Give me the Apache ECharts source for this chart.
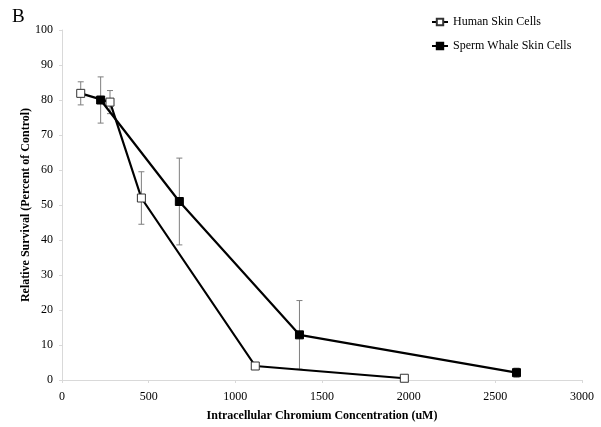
<!DOCTYPE html>
<html><head><meta charset="utf-8">
<script src="https://cdn.jsdelivr.net/npm/echarts@6/dist/echarts.min.js"></script>
<style>html,body{margin:0;padding:0;background:#fff}#c{width:601px;height:427px}</style>
</head><body><div id="c"></div>
<script>
const humanX = [108, 277, 458, 1115, 1975];
const humanY = [81.9, 79.4, 52.0, 4.0, 0.5];
const humanErr = [3.3, 3.3, 7.5, 0.5, 0.4];
const whaleX = [223, 677, 1370, 2622];
const whaleY = [80.0, 51.0, 12.9, 2.1];
const whaleErr = [6.6, 12.4, 9.8, 1.3];
const xTicks = [0, 500, 1000, 1500, 2000, 2500, 3000];
const yTicks = [0, 10, 20, 30, 40, 50, 60, 70, 80, 90, 100];

const F = '"Liberation Serif", "DejaVu Serif", serif';
function errData(xs, ys, es) { return xs.map((x, i) => [x, ys[i] - es[i], ys[i] + es[i]]); }
function errRender(params, api) {
  const x = api.value(0), lo = api.value(1), hi = api.value(2);
  const pLo = api.coord([x, lo]), pHi = api.coord([x, hi]);
  const w = 3;
  const st = { stroke: '#7f7f7f', lineWidth: 1 };
  return { type: 'group', children: [
    { type: 'line', shape: { x1: pLo[0], y1: pLo[1], x2: pHi[0], y2: pHi[1] }, style: st },
    { type: 'line', shape: { x1: pLo[0]-w, y1: pLo[1], x2: pLo[0]+w, y2: pLo[1] }, style: st },
    { type: 'line', shape: { x1: pHi[0]-w, y1: pHi[1], x2: pHi[0]+w, y2: pHi[1] }, style: st }
  ]};
}
const chart = echarts.init(document.getElementById('c'), null, { renderer: 'canvas' });
chart.setOption({
  animation: false,
  backgroundColor: '#fff',
  textStyle: { fontFamily: F },
  title: { text: 'B', left: 7, top: 3, textStyle: { fontFamily: F, fontSize: 19, fontWeight: 'normal', color: '#000' } },
  legend: {
    orient: 'vertical', left: 426, top: 11, itemGap: 12, itemWidth: 16, itemHeight: 8,
    textStyle: { fontFamily: F, fontSize: 12, color: '#000' },
    data: ['Human Skin Cells', 'Sperm Whale Skin Cells']
  },
  grid: { left: 62, right: 19, top: 30, bottom: 46 },
  xAxis: {
    type: 'value', min: xTicks[0], max: xTicks[xTicks.length - 1], interval: 500,
    name: 'Intracellular Chromium Concentration (uM)', nameLocation: 'middle', nameGap: 30,
    nameMoveOverlap: false,
    nameTextStyle: { fontFamily: F, fontSize: 12, fontWeight: 'bold', color: '#000' },
    axisLine: { lineStyle: { color: '#d9d9d9', width: 1 } },
    axisTick: { show: true, length: 3, lineStyle: { color: '#d9d9d9' } },
    axisLabel: { fontFamily: F, fontSize: 12, color: '#000', margin: 11, formatter: v => String(v) },
    splitLine: { show: false }
  },
  yAxis: {
    type: 'value', min: yTicks[0], max: yTicks[yTicks.length - 1], interval: 10,
    name: 'Relative Survival (Percent of Control)', nameLocation: 'middle', nameGap: 30,
    nameMoveOverlap: false,
    nameTextStyle: { fontFamily: F, fontSize: 12, fontWeight: 'bold', color: '#000' },
    axisLine: { show: true, lineStyle: { color: '#d9d9d9', width: 1 } },
    axisTick: { show: true, length: 3, lineStyle: { color: '#d9d9d9' } },
    axisLabel: { fontFamily: F, fontSize: 12, color: '#000', margin: 9 },
    splitLine: { show: false }
  },
  series: [
    { type: 'custom', renderItem: errRender, data: errData(humanX, humanY, humanErr), z: 1, silent: true },
    { type: 'custom', renderItem: errRender, data: errData(whaleX, whaleY, whaleErr), z: 1, silent: true },
    {
      name: 'Human Skin Cells', type: 'line', z: 3,
      data: humanX.map((x, i) => [x, humanY[i]]),
      symbol: 'rect', symbolSize: 8, showAllSymbol: true,
      lineStyle: { color: '#000', width: 2.2 },
      itemStyle: { color: '#fff', borderColor: '#333', borderWidth: 1 }
    },
    {
      name: 'Sperm Whale Skin Cells', type: 'line', z: 4,
      data: whaleX.map((x, i) => [x, whaleY[i]]),
      symbol: 'rect', symbolSize: 8, showAllSymbol: true,
      lineStyle: { color: '#000', width: 2.2 },
      itemStyle: { color: '#000', borderColor: '#000', borderWidth: 1 }
    }
  ]
});
</script></body></html>
